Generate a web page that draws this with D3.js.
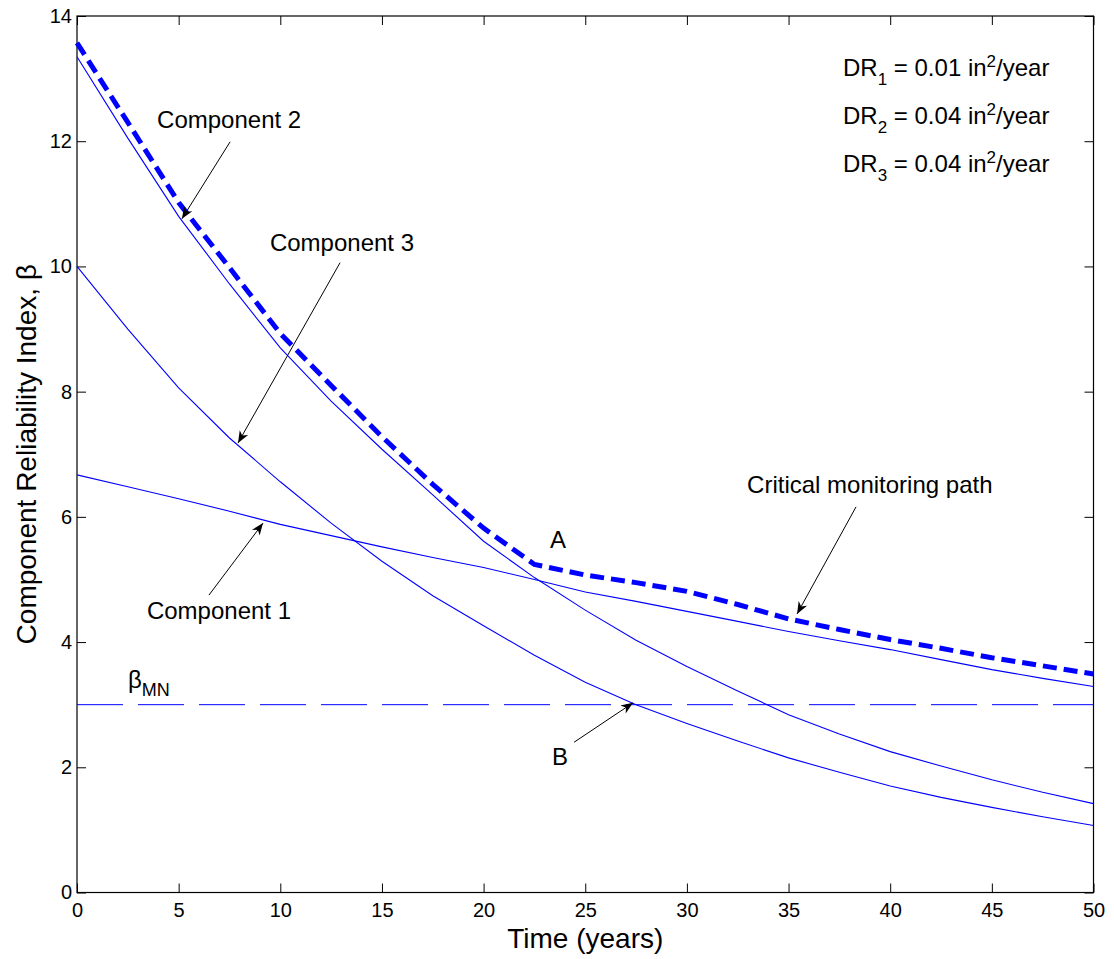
<!DOCTYPE html>
<html>
<head>
<meta charset="utf-8">
<script src="https://cdn.jsdelivr.net/npm/d3@7"></script>
<style>
  body { margin: 0; background: #fff; }
  svg { display: block; font-family: "Liberation Sans", Arial, Helvetica, sans-serif; }
</style>
</head>
<body>
<svg id="chart"></svg>
<script>
// time axis (years) shared by every curve
const years    = [0, 2.5, 5, 7.5, 10, 12.5, 15, 17.5, 20, 22.5, 25, 27.5, 30, 32.5, 35, 37.5, 40, 42.5, 45, 47.5, 50]
const comp1    = [6.67, 6.48, 6.29, 6.09, 5.88, 5.70, 5.52, 5.35, 5.19, 5.00, 4.80, 4.65, 4.49, 4.33, 4.17, 4.02, 3.88, 3.72, 3.56, 3.42, 3.29]
const comp2    = [13.35, 12.05, 10.80, 9.72, 8.70, 7.85, 7.08, 6.35, 5.61, 5.03, 4.51, 4.03, 3.61, 3.22, 2.84, 2.53, 2.25, 2.02, 1.80, 1.60, 1.42]
const comp3    = [10.0, 9.0, 8.06, 7.26, 6.56, 5.90, 5.29, 4.74, 4.26, 3.79, 3.36, 3.00, 2.70, 2.42, 2.15, 1.92, 1.70, 1.52, 1.36, 1.21, 1.07]
const critical = [13.57, 12.3, 11.02, 9.98, 8.93, 8.1, 7.28, 6.52, 5.82, 5.24, 5.07, 4.95, 4.81, 4.60, 4.37, 4.20, 4.04, 3.90, 3.75, 3.62, 3.49]
const betaMin  = 3

const xTicks = d3.range(0, 51, 5)
const yTicks = d3.range(0, 15, 2)

// annotations, in data units (t, beta)
const labels = [
  { text: "Component 2", t: 3.94, b: 12.21 },
  { text: "Component 3", t: 9.49, b: 10.25 },
  { text: "Component 1", t: 3.44, b: 4.37 },
  { text: "Critical monitoring path", t: 32.96, b: 6.38 },
  { text: "A", t: 23.27, b: 5.50 },
  { text: "B", t: 23.36, b: 2.04 }
]
const arrows = [
  { t0: 7.53,  b0: 11.99, t1: 5.16,  b1: 10.76 },
  { t0: 12.94, b0: 10.06, t1: 7.92,  b1: 7.18 },
  { t0: 6.49,  b0: 4.75,  t1: 9.15,  b1: 5.90 },
  { t0: 38.32, b0: 6.16,  t1: 35.42, b1: 4.45 },
  { t0: 24.45, b0: 2.40,  t1: 27.35, b1: 3.03 }
]
const rates = [
  { sub: "1", val: "0.01" },
  { sub: "2", val: "0.04" },
  { sub: "3", val: "0.04" }
]

const W = 1114, H = 959
const m = { left: 77, right: 20.5, top: 16, bottom: 66.5 }

const svg = d3.select("#chart").attr("width", W).attr("height", H)

const x = d3.scaleLinear().domain([0, 50]).range([m.left, W - m.right])
const y = d3.scaleLinear().domain([0, 14]).range([H - m.bottom, m.top])

// arrow head
svg.append("defs").append("marker")
  .attr("id", "head")
  .attr("viewBox", "-13 -6 14 12")
  .attr("markerUnits", "userSpaceOnUse")
  .attr("markerWidth", 14).attr("markerHeight", 12)
  .attr("refX", 0).attr("refY", 0)
  .attr("orient", "auto")
  .append("path")
  .attr("d", "M0,0L-12,-4.8L-8.5,0L-12,4.8Z")
  .attr("fill", "#000")

// axes: ticks inside on all four sides
const tick = 9
const gx = svg.append("g")
  .attr("transform", `translate(0,${y(0)})`)
  .call(d3.axisBottom(x).tickValues(xTicks).tickSizeInner(-tick).tickSizeOuter(0).tickPadding(10))
const gy = svg.append("g")
  .attr("transform", `translate(${x(0)},0)`)
  .call(d3.axisLeft(y).tickValues(yTicks).tickSizeInner(-tick).tickSizeOuter(0).tickPadding(5))
const gt = svg.append("g")
  .attr("transform", `translate(0,${y(14)})`)
  .call(d3.axisTop(x).tickValues(xTicks).tickSizeInner(-tick).tickSizeOuter(0).tickFormat(""))
const gr = svg.append("g")
  .attr("transform", `translate(${x(50)},0)`)
  .call(d3.axisRight(y).tickValues(yTicks).tickSizeInner(-tick).tickSizeOuter(0).tickFormat(""))

;[gx, gy, gt, gr].forEach(g => {
  g.select(".domain").remove()
  g.selectAll("line").attr("stroke", "#000").attr("stroke-width", 1)
  g.selectAll("text").attr("fill", "#000").style("font-size", "20px")
    .style("font-family", "'Liberation Sans', Arial, sans-serif")
})

svg.append("rect")
  .attr("x", x(0)).attr("y", y(14))
  .attr("width", x(50) - x(0)).attr("height", y(0) - y(14))
  .attr("fill", "none").attr("stroke", "#000").attr("stroke-width", 1.2)

// curves
const line = d3.line().x((d, i) => x(years[i])).y(d => y(d))

const plot = svg.append("g")
plot.append("line")
  .attr("x1", x(0)).attr("x2", x(50))
  .attr("y1", y(betaMin)).attr("y2", y(betaMin))
  .attr("stroke", "#0000ff").attr("stroke-width", 1)
  .attr("stroke-dasharray", "46,15")

;[comp1, comp2, comp3].forEach(s => {
  plot.append("path").datum(s)
    .attr("d", line)
    .attr("fill", "none").attr("stroke", "#0000ff").attr("stroke-width", 1.1)
})

plot.append("path").datum(critical)
  .attr("d", line)
  .attr("fill", "none").attr("stroke", "#0000ff").attr("stroke-width", 5)
  .attr("stroke-dasharray", "14,7")

// annotations
svg.selectAll(".arrow").data(arrows).join("line")
  .attr("class", "arrow")
  .attr("x1", d => x(d.t0)).attr("y1", d => y(d.b0))
  .attr("x2", d => x(d.t1)).attr("y2", d => y(d.b1))
  .attr("stroke", "#000").attr("stroke-width", 1)
  .attr("marker-end", "url(#head)")

svg.selectAll(".lbl").data(labels).join("text")
  .attr("class", "lbl")
  .attr("x", d => x(d.t)).attr("y", d => y(d.b))
  .style("font-size", "24px").attr("fill", "#000")
  .text(d => d.text)

// beta_MN label
const bm = svg.append("text")
  .attr("x", x(2.51)).attr("y", y(3.27))
  .style("font-size", "24px")
bm.append("tspan").text("β")
bm.append("tspan").attr("dy", 8).style("font-size", "18px").text("MN")

// damage rates
const dr = svg.selectAll(".dr").data(rates).join("text")
  .attr("class", "dr")
  .attr("x", x(37.68))
  .attr("y", (d, i) => y(13.04) + i * 48)
  .style("font-size", "24px")
dr.append("tspan").text("DR")
dr.append("tspan").attr("dy", 9).style("font-size", "17px").text(d => d.sub)
dr.append("tspan").attr("dy", -9).text(d => " = " + d.val + " in")
dr.append("tspan").attr("dy", -9).style("font-size", "17px").text("2")
dr.append("tspan").attr("dy", 9).text("/year")

// axis titles
svg.append("text")
  .attr("x", (x(0) + x(50)) / 2).attr("y", 948)
  .attr("text-anchor", "middle")
  .style("font-size", "28px")
  .text("Time (years)")

svg.append("text")
  .attr("transform", `translate(36,${(y(0) + y(14)) / 2}) rotate(-90)`)
  .attr("text-anchor", "middle")
  .style("font-size", "28px")
  .text("Component Reliability Index, β")
</script>
</body>
</html>
